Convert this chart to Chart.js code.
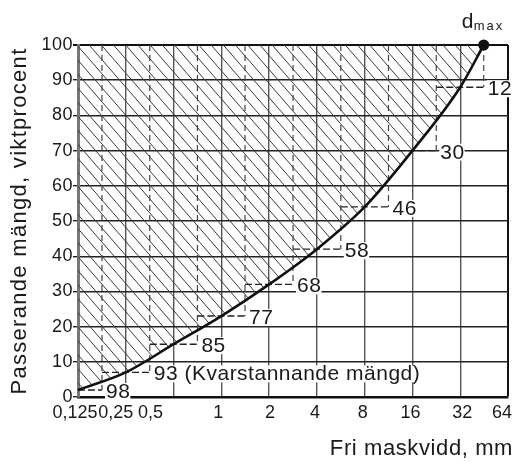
<!DOCTYPE html>
<html>
<head>
<meta charset="utf-8">
<script src="https://cdn.jsdelivr.net/npm/chart.js@4.4.1/dist/chart.umd.min.js"></script>
<style>
  html, body { margin: 0; padding: 0; background: #fff; }
  #c { display: block; }
</style>
</head>
<body>
<canvas id="c" width="521" height="462"></canvas>
<script>
// Sieve sizes (mm) and the retained percentage printed beside each one
const sieveSizes = [0.125, 0.25, 0.5, 1, 2, 4, 8, 16, 32];
const retainedPct = [98, 93, 85, 77, 68, 58, 46, 30, 12];
// Sizes halfway (on the log axis) between neighbouring sieves
const halfSizes = [0.177, 0.354, 0.707, 1.41, 2.83, 5.66, 11.3, 22.6, 45];
// Largest grain size, where the curve reaches 100 %
const dMax = 45;

const xTickValues = [0.125, 0.25, 0.5, 1, 2, 4, 8, 16, 32, 64];
const xTickLabels = ['0,125', '0,25', '0,5', '1', '2', '4', '8', '16', '32', '64'];
const xTitle = 'Fri maskvidd, mm';
const yTitle = 'Passerande mängd, viktprocent';
const retainedNote = ' (Kvarstannande mängd)';

// Passing share = 100 - retained share
const passingPct = retainedPct.map(r => 100 - r);

const FONT = '"Liberation Sans", Arial, Helvetica, sans-serif';
const INK = '#1a1a1a';
// small horizontal nudges so the crowded tick labels sit side by side
const xLabelNudge = [-3, -10, -23, -3, 1, -2, -2, -2, 2, -6];

const curveSet = {
  data: sieveSizes.map((s, i) => ({ x: s, y: passingPct[i] })).concat([{ x: dMax, y: 100 }]),
  borderColor: '#111',
  borderWidth: 2.6,
  cubicInterpolationMode: 'monotone',
  pointRadius: c => (c.dataIndex === sieveSizes.length ? 5.5 : 0),
  pointBackgroundColor: '#111',
  pointBorderWidth: 0,
  fill: false,
  clip: false
};

// dashed verticals at the intermediate sizes, from the top down to the step level
const guideSets = halfSizes.map((h, i) => ({
  data: [{ x: h, y: 100 }, { x: h, y: passingPct[i] }],
  borderColor: '#444',
  borderWidth: 1.2,
  borderDash: [6, 4],
  pointRadius: 0
}));

// dashed step lines carrying the retained-percentage labels
const stepSets = halfSizes.map((h, i) => ({
  data: [
    { x: i === 0 ? sieveSizes[0] : halfSizes[i - 1], y: passingPct[i] },
    { x: h, y: passingPct[i] }
  ],
  borderColor: '#222',
  borderWidth: 1.4,
  borderDash: [7, 3],
  pointRadius: 0
}));

// diagonal hatching of the area above the grading curve
const hatchPlugin = {
  id: 'hatch',
  beforeDatasetsDraw(chart) {
    const meta = chart.getDatasetMeta(0);
    const line = meta.dataset;
    const { left, right, top, bottom } = chart.chartArea;
    if (line && line.updateControlPoints) line.updateControlPoints(chart.chartArea, 'x');
    const pts = meta.data;
    const ctx = chart.ctx;
    ctx.save();
    ctx.beginPath();
    ctx.moveTo(pts[0].x, pts[0].y);
    for (let i = 1; i < pts.length; i++) {
      const a = pts[i - 1], b = pts[i];
      if (a.cp2x !== undefined && b.cp1x !== undefined) {
        ctx.bezierCurveTo(a.cp2x, a.cp2y, b.cp1x, b.cp1y, b.x, b.y);
      } else {
        ctx.lineTo(b.x, b.y);
      }
    }
    ctx.lineTo(left, top);
    ctx.closePath();
    ctx.clip();
    ctx.strokeStyle = '#3a3a3a';
    ctx.lineWidth = 1;
    const slope = 1.15, gap = 12.2;
    const h = bottom - top;
    ctx.beginPath();
    for (let x0 = left - h / slope; x0 < right + gap; x0 += gap) {
      ctx.moveTo(x0, top);
      ctx.lineTo(x0 + h / slope, bottom);
    }
    ctx.stroke();
    ctx.restore();
  }
};

function putText(ctx, text, x, y, size, spacing, align) {
  ctx.font = size + 'px ' + FONT;
  ctx.letterSpacing = spacing + 'px';
  ctx.textAlign = align || 'left';
  ctx.textBaseline = 'alphabetic';
  ctx.fillText(text, x, y);
}

const textPlugin = {
  id: 'texts',
  beforeDraw(chart) {
    chart.ctx.letterSpacing = '0.5px';
  },
  afterDraw(chart) {
    const ctx = chart.ctx;
    const xs = chart.scales.x, ys = chart.scales.y;
    const { top, bottom } = chart.chartArea;
    ctx.save();
    ctx.fillStyle = INK;

    // x tick labels
    xTickValues.forEach((v, i) => {
      putText(ctx, xTickLabels[i], xs.getPixelForValue(v) + xLabelNudge[i], 418, 18, 0, 'center');
    });

    // axis titles
    putText(ctx, xTitle, 513, 455, 22, 0.6, 'right');
    ctx.save();
    ctx.translate(26, (top + bottom) / 2);
    ctx.rotate(-Math.PI / 2);
    putText(ctx, yTitle, 0, 0, 22, 1.3, 'center');
    ctx.restore();

    // retained-percentage labels beside each step
    retainedPct.forEach((r, i) => {
      const text = String(r) + (i === 1 ? retainedNote : '');
      const x = xs.getPixelForValue(halfSizes[i]) + 4;
      const y = ys.getPixelForValue(passingPct[i]) + 8;
      ctx.font = '21px ' + FONT;
      ctx.letterSpacing = '0.5px';
      const w = ctx.measureText(text).width;
      ctx.fillStyle = '#fff';
      ctx.fillRect(x - 1, y - 15, w + 1, 17);
      ctx.fillStyle = INK;
      putText(ctx, text, x, y, 21, 0.5, 'left');
    });

    // d_max label above the end point
    const px = xs.getPixelForValue(dMax), py = ys.getPixelForValue(100);
    putText(ctx, 'd', px - 22, py - 17, 21, 0, 'left');
    putText(ctx, 'max', px - 10, py - 15, 13, 2, 'left');
    ctx.restore();
  }
};

new Chart(document.getElementById('c'), {
  type: 'line',
  data: { datasets: [curveSet, ...guideSets, ...stepSets] },
  options: {
    responsive: false,
    animation: false,
    devicePixelRatio: 1,
    events: [],
    layout: { padding: { top: 45, right: 13, left: 0, bottom: 0 } },
    plugins: { legend: { display: false }, tooltip: { enabled: false } },
    scales: {
      x: {
        type: 'logarithmic',
        min: 0.125,
        max: 64,
        afterBuildTicks: s => { s.ticks = xTickValues.map(v => ({ value: v })); },
        afterFit: s => { s.height = 65; },
        ticks: { display: false },
        grid: {
          drawTicks: false,
          color: c => (c.tick && c.tick.value === 64 ? '#111' : '#555'),
          lineWidth: c => (c.tick && c.tick.value === 64 ? 2 : 1.4)
        },
        border: { color: '#111', width: 2.5 }
      },
      y: {
        min: 0,
        max: 100,
        afterFit: s => { s.width = 78; },
        ticks: {
          stepSize: 10,
          padding: 0,
          color: INK,
          font: { family: FONT, size: 18 }
        },
        grid: {
          tickLength: 5,
          color: c => (c.tick && c.tick.value === 100 ? '#111' : '#222'),
          lineWidth: c => (c.tick && c.tick.value === 100 ? 2 : 1.4)
        },
        border: { color: '#777', width: 3 }
      }
    }
  },
  plugins: [hatchPlugin, textPlugin]
});
</script>
</body>
</html>
